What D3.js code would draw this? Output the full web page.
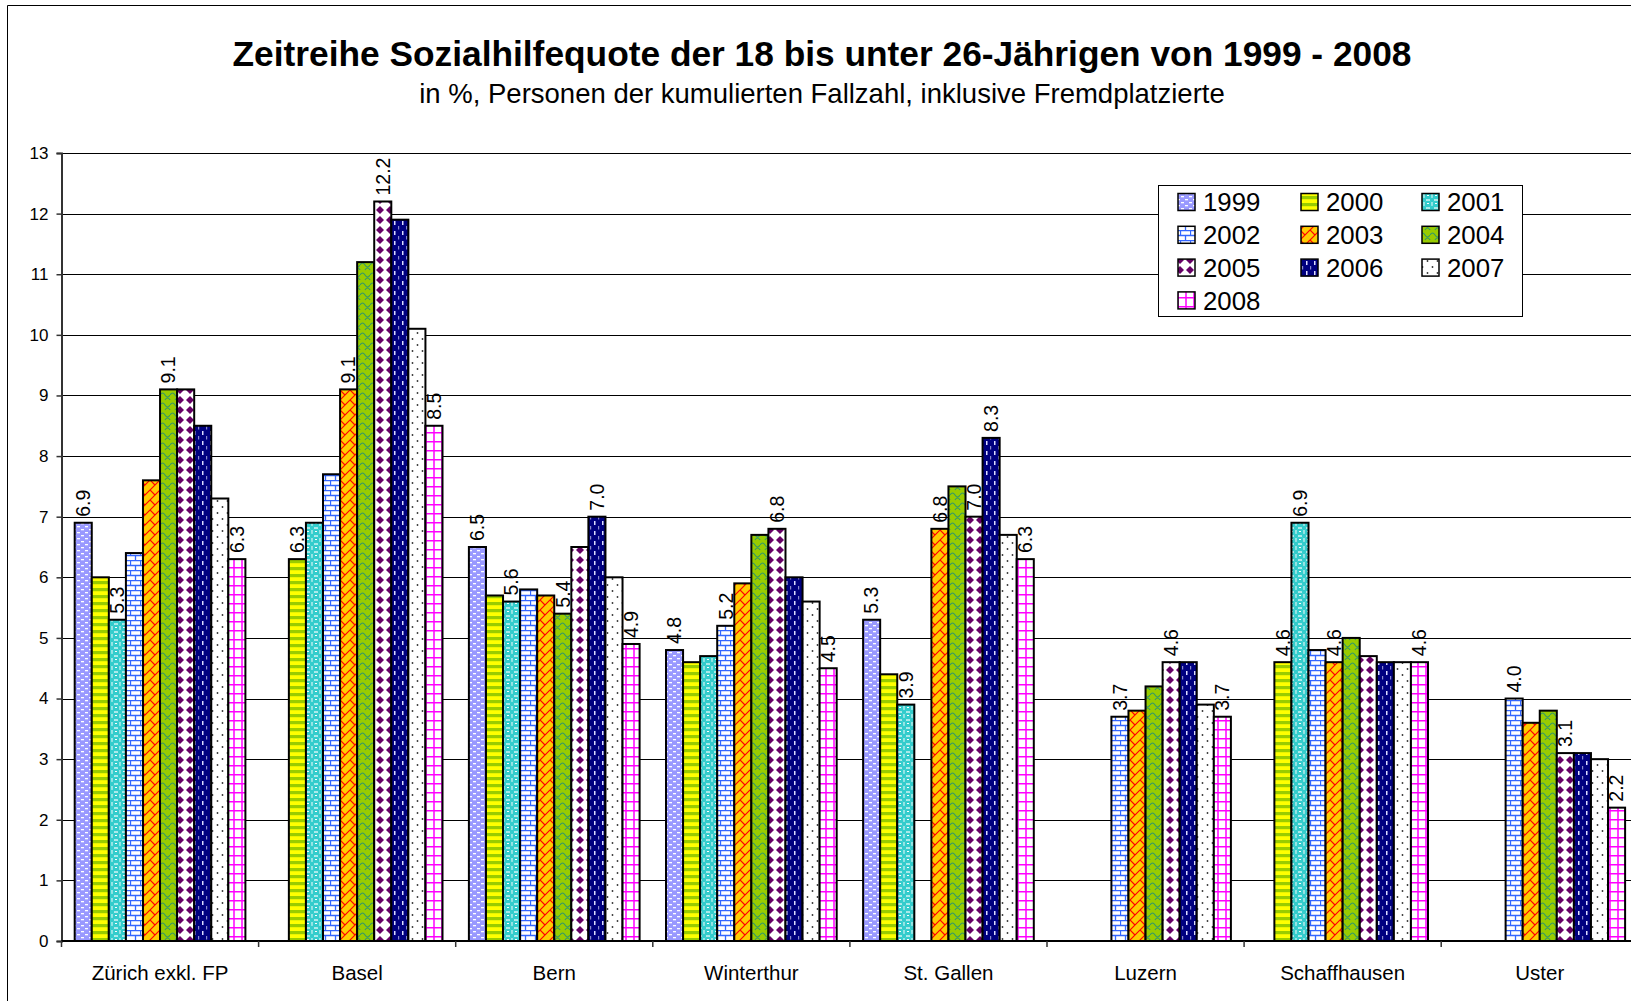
<!DOCTYPE html>
<html>
<head>
<meta charset="utf-8">
<script src="https://cdn.jsdelivr.net/npm/d3@7"></script>
<style>
  body { margin: 0; background: #fff; }
  svg { display: block; font-family: "Liberation Sans", Arial, sans-serif; }
</style>
</head>
<body>
<div id="chart"></div>
<script>
// categories and years
const categories = ["Zürich exkl. FP", "Basel", "Bern", "Winterthur", "St. Gallen", "Luzern", "Schaffhausen", "Uster"];
const years = ["1999", "2000", "2001", "2002", "2003", "2004", "2005", "2006", "2007", "2008"];
const yTicks = [0, 1, 2, 3, 4, 5, 6, 7, 8, 9, 10, 11, 12, 13];

// series values, one array per year (null = no bar)
const v1999 = [6.9, null, 6.5, 4.8, 5.3, null, null, null];
const v2000 = [6.0, 6.3, 5.7, 4.6, 4.4, null, 4.6, null];
const v2001 = [5.3, 6.9, 5.6, 4.7, 3.9, null, 6.9, null];
const v2002 = [6.4, 7.7, 5.8, 5.2, null, 3.7, 4.8, 4.0];
const v2003 = [7.6, 9.1, 5.7, 5.9, 6.8, 3.8, 4.6, 3.6];
const v2004 = [9.1, 11.2, 5.4, 6.7, 7.5, 4.2, 5.0, 3.8];
const v2005 = [9.1, 12.2, 6.5, 6.8, 7.0, 4.6, 4.7, 3.1];
const v2006 = [8.5, 11.9, 7.0, 6.0, 8.3, 4.6, 4.6, 3.1];
const v2007 = [7.3, 10.1, 6.0, 5.6, 6.7, 3.9, 4.6, 3.0];
const v2008 = [6.3, 8.5, 4.9, 4.5, 6.3, 3.7, 4.6, 2.2];

// which categories carry a value label, per year
const lab1999 = [0, 2, 3, 4];
const lab2000 = [1, 6];
const lab2001 = [0, 2, 4, 6];
const lab2002 = [3, 5, 7];
const lab2003 = [1, 4, 6];
const lab2004 = [0, 2];
const lab2005 = [1, 3, 4, 5, 7];
const lab2006 = [2, 4];
const lab2007 = [];
const lab2008 = [0, 1, 2, 3, 4, 5, 6, 7];

const series = [v1999, v2000, v2001, v2002, v2003, v2004, v2005, v2006, v2007, v2008];
const labels = [lab1999, lab2000, lab2001, lab2002, lab2003, lab2004, lab2005, lab2006, lab2007, lab2008];

const W = 1631, H = 1001;
const plot = { left: 61.5, top: 153, bottom: 941 };
const band = 197.1;

const svg = d3.select("#chart").append("svg")
    .attr("width", W)
    .attr("height", H);

svg.append("rect").attr("width", W).attr("height", H).attr("fill", "#fff");

// ---- fill patterns (one per year)
const defs = svg.append("defs");
function pat(id, w, h, bg) {
    const p = defs.append("pattern")
        .attr("id", id)
        .attr("patternUnits", "userSpaceOnUse")
        .attr("width", w).attr("height", h);
    p.append("rect").attr("width", w).attr("height", h).attr("fill", bg);
    return p;
}
// 1999 lavender with white dashes
let p = pat("p1999", 8, 6, "#9999FF");
p.append("rect").attr("x", 1).attr("y", 1).attr("width", 3).attr("height", 1.3).attr("fill", "#fff");
p.append("rect").attr("x", 5).attr("y", 4).attr("width", 3).attr("height", 1.3).attr("fill", "#fff");
// 2000 yellow / green stripes
p = pat("p2000", 7, 7, "#FFFF00");
p.append("rect").attr("y", 0).attr("width", 7).attr("height", 3.2).attr("fill", "#99CC00");
// 2001 turquoise with white spots
p = pat("p2001", 8, 8, "#fff");
p.append("circle").attr("cx", 4).attr("cy", 4).attr("r", 3.6).attr("fill", "#33CCCC");
p.append("circle").attr("cx", 0).attr("cy", 0).attr("r", 2.4).attr("fill", "#33CCCC");
p.append("circle").attr("cx", 8).attr("cy", 0).attr("r", 2.4).attr("fill", "#33CCCC");
p.append("circle").attr("cx", 0).attr("cy", 8).attr("r", 2.4).attr("fill", "#33CCCC");
p.append("circle").attr("cx", 8).attr("cy", 8).attr("r", 2.4).attr("fill", "#33CCCC");
p.append("rect").attr("x", 3).attr("y", 3).attr("width", 2).attr("height", 1).attr("fill", "#fff");
// 2002 blue bricks
p = pat("p2002", 10, 10, "#fff");
p.append("path")
    .attr("d", "M0,0.5H10M0,5.5H10M0.5,0.5V5.5M5.5,5.5V10")
    .attr("stroke", "#3366FF").attr("stroke-width", 1.3).attr("fill", "none");
// 2003 gold with red lattice
p = pat("p2003", 10, 10, "#FFCC00");
p.append("path")
    .attr("d", "M0,10L10,0M-1,1L1,-1M9,11L11,9M0,0L5,5")
    .attr("stroke", "#FF0000").attr("stroke-width", 1.2).attr("fill", "none");
// 2004 green with teal scales
p = pat("p2004", 10, 10, "#99CC00");
p.append("path")
    .attr("d", "M0,5Q2.5,1 5,5T10,5M-5,10Q-2.5,6 0,10T5,10T10,10M5,0Q7.5,-4 10,0")
    .attr("stroke", "#339966").attr("stroke-width", 1.1).attr("fill", "none");
// 2005 white with purple diamonds
p = pat("p2005", 10, 10, "#fff");
p.append("path")
    .attr("d", "M0,-4L4,0L0,4L-4,0ZM10,-4L14,0L10,4L6,0ZM0,6L4,10L0,14L-4,10ZM10,6L14,10L10,14L6,10Z")
    .attr("fill", "#660066");
// 2006 navy with light dashes
p = pat("p2006", 8, 10, "#000080");
p.append("rect").attr("x", 2).attr("y", 1).attr("width", 1.5).attr("height", 4).attr("fill", "#ddddff");
p.append("rect").attr("x", 6).attr("y", 6).attr("width", 1.2).attr("height", 3.5).attr("fill", "#8888cc");
// 2007 white with black dots
p = pat("p2007", 10, 12, "#fff");
p.append("circle").attr("cx", 2.5).attr("cy", 3).attr("r", 0.9).attr("fill", "#333");
p.append("circle").attr("cx", 7.5).attr("cy", 9).attr("r", 0.9).attr("fill", "#333");
// 2008 white with magenta grid
p = pat("p2008", 8, 9, "#fff");
p.append("path")
    .attr("d", "M0,0.7H8M2,0V9")
    .attr("stroke", "#FF00FF").attr("stroke-width", 1.5).attr("fill", "none");

// ---- scales
const x = d3.scaleBand()
    .domain(categories)
    .range([plot.left, plot.left + band * categories.length])
    .padding(0);

const xYear = d3.scaleBand()
    .domain(years)
    .range([13.2, band - 13.2])
    .padding(0);

const y = d3.scaleLinear()
    .domain([0, 13])
    .range([plot.bottom, plot.top]);

// ---- gridlines
svg.append("g")
    .selectAll("line")
    .data(yTicks.filter(d => d > 0))
    .enter()
    .append("line")
    .attr("x1", plot.left).attr("x2", W)
    .attr("y1", d => Math.round(y(d)) + 0.5)
    .attr("y2", d => Math.round(y(d)) + 0.5)
    .attr("stroke", "#000")
    .attr("stroke-width", 1);

// ---- bars
series.forEach((vals, i) => {
    const yr = years[i];
    svg.append("g")
        .selectAll("rect")
        .data(categories.map((c, j) => ({ c, v: vals[j] })).filter(d => d.v !== null))
        .enter()
        .append("rect")
        .attr("x", d => x(d.c) + xYear(yr))
        .attr("y", d => y(d.v))
        .attr("width", xYear.bandwidth())
        .attr("height", d => y(0) - y(d.v))
        .attr("fill", `url(#p${yr})`)
        .attr("stroke", "#000")
        .attr("stroke-width", 2);
});

// ---- value labels
series.forEach((vals, i) => {
    const yr = years[i];
    svg.append("g")
        .selectAll("text")
        .data(labels[i].map(j => ({ c: categories[j], v: vals[j] })))
        .enter()
        .append("text")
        .attr("transform", d => `translate(${x(d.c) + xYear(yr) + xYear.bandwidth() / 2}, ${y(d.v) - 6}) rotate(-90)`)
        .attr("dy", "0.35em")
        .attr("text-anchor", "start")
        .style("font-size", "19.5px")
        .style("fill", "#000")
        .text(d => d.v.toFixed(1));
});

// ---- y axis
const yAxis = svg.append("g")
    .attr("transform", `translate(${plot.left}, 0)`)
    .call(d3.axisLeft(y).tickValues(yTicks).tickSize(5).tickPadding(8).tickFormat(d3.format("d")));
yAxis.select(".domain").attr("stroke", "#333").attr("stroke-width", 2);
yAxis.selectAll(".tick line").attr("stroke", "#333").attr("stroke-width", 1.5);
yAxis.selectAll("text")
    .style("font-size", "17px")
    .style("font-family", "'Liberation Sans', Arial, sans-serif")
    .attr("fill", "#000");

// ---- x axis (line, boundary ticks, labels)
svg.append("line")
    .attr("x1", plot.left).attr("x2", W)
    .attr("y1", plot.bottom).attr("y2", plot.bottom)
    .attr("stroke", "#000").attr("stroke-width", 2);

svg.append("g")
    .selectAll("line")
    .data(categories)
    .enter()
    .append("line")
    .attr("x1", d => x(d)).attr("x2", d => x(d))
    .attr("y1", plot.bottom).attr("y2", plot.bottom + 6)
    .attr("stroke", "#333").attr("stroke-width", 1.5);

svg.append("g")
    .selectAll("text")
    .data(categories)
    .enter()
    .append("text")
    .attr("x", d => x(d) + x.bandwidth() / 2)
    .attr("y", 980)
    .attr("text-anchor", "middle")
    .style("font-size", "20.5px")
    .text(d => d);

// ---- titles
svg.append("text")
    .attr("x", 822).attr("y", 66)
    .attr("text-anchor", "middle")
    .style("font-size", "35.3px")
    .style("font-weight", "bold")
    .text("Zeitreihe Sozialhilfequote der 18 bis unter 26-Jährigen von 1999 - 2008");

svg.append("text")
    .attr("x", 822).attr("y", 103)
    .attr("text-anchor", "middle")
    .style("font-size", "27.5px")
    .text("in %, Personen der kumulierten Fallzahl, inklusive Fremdplatzierte");

// ---- legend
const legend = svg.append("g");
legend.append("rect")
    .attr("x", 1158.5).attr("y", 185.5)
    .attr("width", 364).attr("height", 131)
    .attr("fill", "#fff")
    .attr("stroke", "#000").attr("stroke-width", 1);

const legendCols = [1178, 1301, 1422];
years.forEach((yr, i) => {
    const cx = legendCols[i % 3];
    const cy = 202 + Math.floor(i / 3) * 32.8;
    legend.append("rect")
        .attr("x", cx).attr("y", cy - 8.5)
        .attr("width", 17).attr("height", 17)
        .attr("fill", `url(#p${yr})`)
        .attr("stroke", "#000").attr("stroke-width", 1.5);
    legend.append("text")
        .attr("x", cx + 25).attr("y", cy)
        .attr("dy", "0.36em")
        .style("font-size", "25.8px")
        .text(yr);
});

// ---- chart area border (partly off-page)
svg.append("path")
    .attr("d", `M7.5,${H}V5.5H${W}`)
    .attr("stroke", "#000").attr("stroke-width", 1).attr("fill", "none");
</script>
</body>
</html>
